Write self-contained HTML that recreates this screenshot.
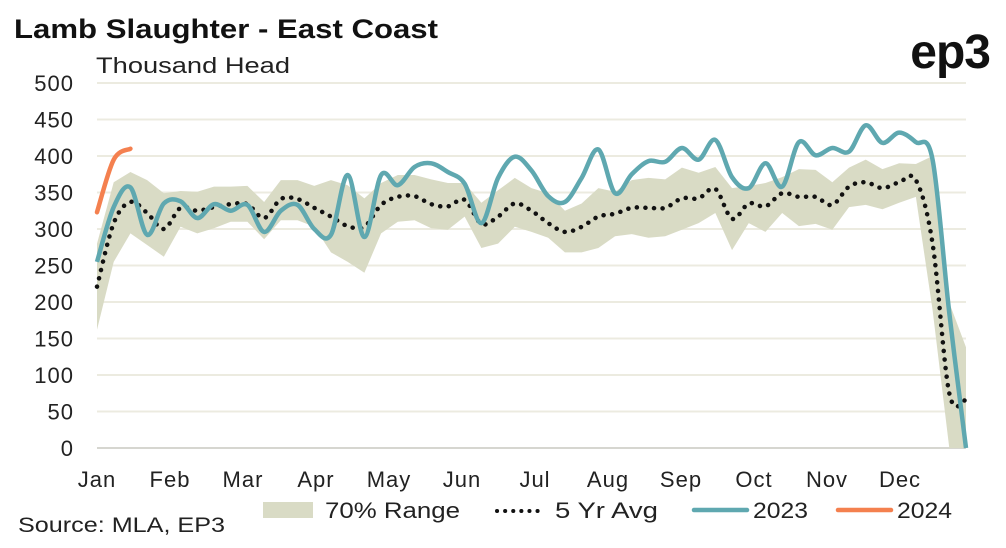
<!DOCTYPE html>
<html><head><meta charset="utf-8"><style>
body{margin:0;background:#fff;}
svg text{font-family:"Liberation Sans",sans-serif;}
</style></head><body>
<svg id="chart" width="1006" height="543" viewBox="0 0 1006 543" xmlns="http://www.w3.org/2000/svg">
<text x="14" y="38" font-size="27" font-weight="bold" fill="#111" textLength="424" lengthAdjust="spacingAndGlyphs">Lamb Slaughter - East Coast</text>
<text x="96" y="73" font-size="22" fill="#222" textLength="194" lengthAdjust="spacingAndGlyphs">Thousand Head</text>
<text x="990" y="68" font-size="48" font-weight="bold" fill="#111" text-anchor="end" letter-spacing="-1">ep3</text>
<g id="grid"></g>
<g id="yt"></g>
<g id="xt"></g>
<g id="series"></g>
<g>
<rect x="263" y="502" width="50" height="16" fill="#d9dbc5"/>
<text x="325" y="518" font-size="22" fill="#222" textLength="135" lengthAdjust="spacingAndGlyphs">70% Range</text>
<line x1="497" y1="511" x2="545" y2="511" stroke="#111" stroke-width="4" stroke-dasharray="0.1 8" stroke-linecap="round"/>
<text x="555" y="518" font-size="22" fill="#222" textLength="103" lengthAdjust="spacingAndGlyphs">5 Yr Avg</text>
<line x1="694" y1="510" x2="747" y2="510" stroke="#5fa8b0" stroke-width="4.5" stroke-linecap="round"/>
<text x="753" y="518" font-size="22" fill="#222" textLength="55" lengthAdjust="spacingAndGlyphs">2023</text>
<line x1="838" y1="510" x2="891" y2="510" stroke="#f4804f" stroke-width="4.5" stroke-linecap="round"/>
<text x="897" y="518" font-size="22" fill="#222" textLength="55" lengthAdjust="spacingAndGlyphs">2024</text>
</g>
<text x="18" y="532" font-size="21" fill="#222" textLength="207" lengthAdjust="spacingAndGlyphs">Source: MLA, EP3</text>
</svg>
<script>
const yTicks=[0,50,100,150,200,250,300,350,400,450,500];
const months=["Jan","Feb","Mar","Apr","May","Jun","Jul","Aug","Sep","Oct","Nov","Dec"];
const rangeUpper=[280,364,378,367,349,352,351,358,358,359,337,367,367,359,367,360,342,363,374,374,368,363,363,336,353,370,356,349,325,335,356,351,367,370,368,384,377,385,356,359,363,371,382,381,364,384,395,382,390,389,400,199,138];
const rangeLower=[162,255,294,278,262,303,294,301,310,310,286,312,312,303,268,255,240,294,310,312,301,299,317,274,280,303,296,288,268,268,274,290,293,288,290,299,308,322,271,308,296,322,304,307,299,330,333,327,336,344,189,0,0];
const avg5yr=[221,308,337,322,300,329,325,330,334,334,315,341,341,329,317,304,303,333,344,345,334,331,340,307,317,335,325,308,296,303,317,321,329,329,329,342,342,355,314,335,331,349,344,344,333,358,364,356,364,367,280,75,66];
const y2023=[255,330,357,292,335,338,315,334,325,333,296,325,333,300,292,374,289,374,360,385,390,378,362,308,370,399,380,345,337,370,409,349,375,393,392,411,395,422,371,356,390,358,419,401,411,406,442,418,432,419,395,185,0];
const y2024=[323,395,410];
const X0=97,X1=966,Y0=448,Y1=83,N=53;
const xs=i=>X0+(X1-X0)*i/(N-1);
const ys=v=>Y0-(Y0-Y1)*v/500;
const NS="http://www.w3.org/2000/svg";
function mk(t,a,p){const e=document.createElementNS(NS,t);for(const k in a)e.setAttribute(k,a[k]);p.appendChild(e);return e;}
const grid=document.getElementById('grid'),yt=document.getElementById('yt'),xt=document.getElementById('xt'),ser=document.getElementById('series');
yTicks.forEach(v=>{
 const l=mk('line',{x1:X0,x2:X1,y1:ys(v),y2:ys(v),stroke:v===0?'#d6d6d0':'#ecebe0','stroke-width':2},grid);
 
 
 const t=mk('text',{x:74,y:ys(v)+8,'font-size':22,fill:'#222','text-anchor':'end','letter-spacing':1},yt);
 t.textContent=v;
 
 
});
months.forEach((m,i)=>{
 const t=mk('text',{x:97+i*73,y:487,'font-size':22,fill:'#222','text-anchor':'middle','letter-spacing':1},xt);
 t.textContent=m;
 
 
});
let d='';
rangeUpper.forEach((v,i)=>{d+=(i?'L':'M')+xs(i)+','+ys(v);});
for(let i=N-1;i>=0;i--)d+='L'+xs(i)+','+ys(rangeLower[i]);
const band=mk('path',{d:d+'Z',fill:'#d9dbc5'},ser);


function smooth(arr){
 const p=arr.map((v,i)=>[xs(i),ys(v)]);let s='M'+p[0][0]+','+p[0][1];
 for(let i=0;i<p.length-1;i++){const a=p[i-1]||p[i],b=p[i],c=p[i+1],e=p[i+2]||c;
  s+='C'+(b[0]+(c[0]-a[0])/6)+','+(b[1]+(c[1]-a[1])/6)+' '+(c[0]-(e[0]-b[0])/6)+','+(c[1]-(e[1]-b[1])/6)+' '+c[0]+','+c[1];}
 return s;}
const av=mk('path',{d:smooth(avg5yr),fill:'none',stroke:'#111','stroke-width':4.5,'stroke-dasharray':'0.1 8.5','stroke-linecap':'round'},ser);


const l23=mk('path',{d:smooth(y2023),fill:'none',stroke:'#5fa8b0','stroke-width':4.5,'stroke-linejoin':'round'},ser);


const l24=mk('path',{d:smooth(y2024),fill:'none',stroke:'#f4804f','stroke-width':4.5,'stroke-linecap':'round'},ser);


</script>
</body></html>
